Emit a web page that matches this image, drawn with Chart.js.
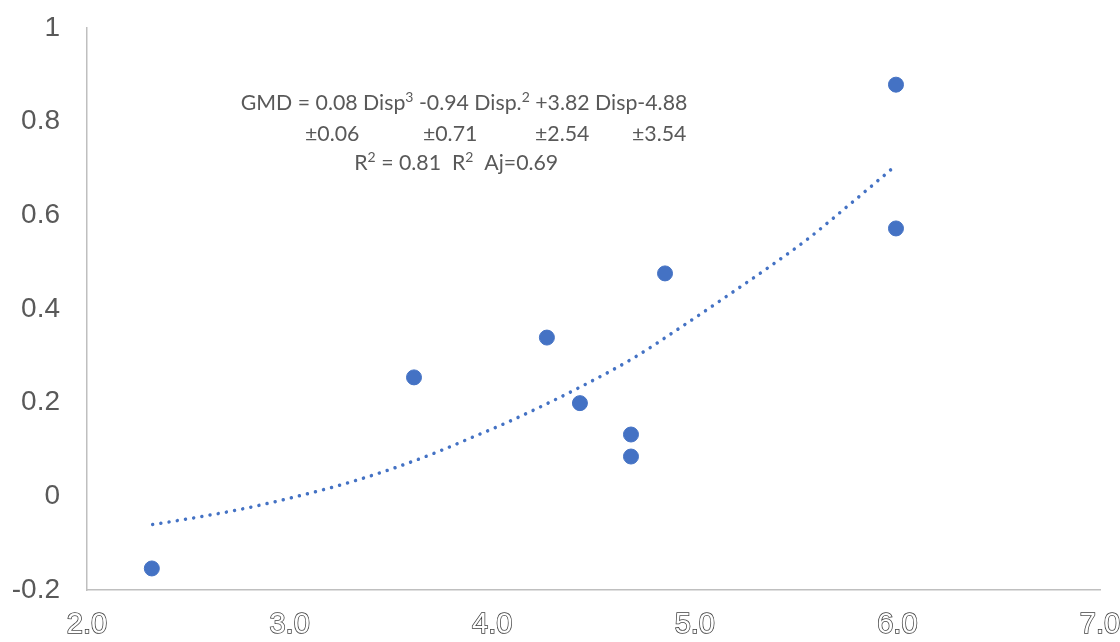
<!DOCTYPE html>
<html>
<head>
<meta charset="utf-8">
<script src="https://cdn.jsdelivr.net/npm/chart.js@4.4.1/dist/chart.umd.min.js"></script>
<style>
  html, body { margin: 0; padding: 0; background: #fff; }
  #wrap { width: 1120px; height: 642px; }
</style>
</head>
<body>
<div id="wrap"><canvas id="chartCanvas" width="1120" height="642"></canvas></div>
<script>
// measured points (Disp, GMD)
const dispValues = [2.32, 3.614, 4.27, 4.433, 4.685, 4.685, 4.853, 5.993, 5.993];
const gmdValues = [-0.154, 0.254, 0.339, 0.199, 0.132, 0.085, 0.476, 0.879, 0.572];

// dotted trend line
const trendX = [2.324, 2.5, 2.755, 3.0, 3.249, 3.5, 3.742, 3.89, 4.1, 4.442, 4.7, 4.931, 5.15, 5.371, 5.55, 5.725, 5.972];
const trendY = [-0.06, -0.048, -0.028, -0.004, 0.024, 0.058, 0.097, 0.124, 0.163, 0.235, 0.296, 0.361, 0.425, 0.491, 0.547, 0.609, 0.699];

const xTickValues = [2, 3, 4, 5, 6, 7];
const xTickLabels = ["2.0", "3.0", "4.0", "5.0", "6.0", "7.0"];
const yTickValues = [-0.2, 0, 0.2, 0.4, 0.6, 0.8, 1];
const yTickLabels = ["-0.2", "0", "0.2", "0.4", "0.6", "0.8", "1"];

// equation text, anchored in data units (x = left edge, y = baseline)
const noteLines = [
  { x: 2.759, y: 0.824, runs: [["GMD = 0.08 Disp"], ["3", true], [" -0.94 Disp."], ["2", true], [" +3.82 Disp-4.88"]] },
  { x: 3.076, y: 0.759, runs: [["±0.06"]] },
  { x: 3.658, y: 0.759, runs: [["±0.71"]] },
  { x: 4.211, y: 0.759, runs: [["±2.54"]] },
  { x: 4.690, y: 0.759, runs: [["±3.54"]] },
  { x: 3.319, y: 0.696, runs: [["R"], ["2", true], [" = 0.81  R"], ["2", true], ["  Aj=0.69"]] },
];

const blue = "#4472C4";

const notePlugin = {
  id: "notes",
  afterDraw(chart) {
    const ctx = chart.ctx;
    const xs = chart.scales.x;
    const ys = chart.scales.y;
    ctx.save();
    ctx.fillStyle = "#595959";
    ctx.textBaseline = "alphabetic";
    ctx.textAlign = "left";
    noteLines.forEach((line) => {
      let px = xs.getPixelForValue(line.x);
      const py = ys.getPixelForValue(line.y);
      line.runs.forEach(([txt, sup]) => {
        ctx.font = sup ? "14px Lato" : "21.3px Lato";
        ctx.fillText(txt, px, sup ? py - 8 : py);
        px += ctx.measureText(txt).width;
      });
    });
    ctx.restore();
  },
};

const ctx = document.getElementById("chartCanvas").getContext("2d");

new Chart(ctx, {
  type: "scatter",
  data: {
    datasets: [
      {
        label: "GMD",
        data: dispValues.map((x, i) => ({ x: x, y: gmdValues[i] })),
        backgroundColor: blue,
        borderColor: blue,
        pointRadius: 7.5,
        pointHoverRadius: 7.5,
        order: 1,
      },
      {
        label: "Trend",
        type: "line",
        data: trendX.map((x, i) => ({ x: x, y: trendY[i] })),
        borderColor: blue,
        borderWidth: 3.5,
        borderCapStyle: "round",
        borderDash: [0.01, 8.3],
        pointRadius: 0,
        fill: false,
        cubicInterpolationMode: "monotone",
        order: 2,
      },
    ],
  },
  options: {
    responsive: false,
    animation: false,
    layout: { padding: { top: 28, right: 20, left: 0, bottom: 0 } },
    plugins: {
      legend: { display: false },
      tooltip: { enabled: false },
    },
    scales: {
      x: {
        type: "linear",
        min: 2,
        max: 7,
        afterBuildTicks: (s) => { s.ticks = xTickValues.map((v) => ({ value: v })); },
        afterFit: (s) => {
          s.height = 52;
          s.paddingLeft = 0;
          s.paddingRight = 0;
        },
        grid: { display: false, drawTicks: false },
        border: { display: true, color: "#BFBFBF", width: 1.5 },
        ticks: {
          callback: (v, i) => xTickLabels[i],
          color: "#ffffff",
          textStrokeColor: "#404040",
          textStrokeWidth: 1.5,
          font: { family: "'Liberation Sans', Arial", size: 29 },
          padding: 18,
          maxRotation: 0,
        },
      },
      y: {
        type: "linear",
        min: -0.2,
        max: 1,
        afterBuildTicks: (s) => { s.ticks = yTickValues.map((v) => ({ value: v })); },
        afterFit: (s) => {
          s.width = 87;
          s.paddingTop = 0;
          s.paddingBottom = 0;
        },
        grid: { display: false, drawTicks: false },
        border: { display: true, color: "#BFBFBF", width: 1.5 },
        ticks: {
          callback: (v, i) => yTickLabels[i],
          color: "#595959",
          font: { family: "'Liberation Sans', Arial", size: 28 },
          padding: 27,
        },
      },
    },
  },
  plugins: [notePlugin],
});
</script>
</body>
</html>
